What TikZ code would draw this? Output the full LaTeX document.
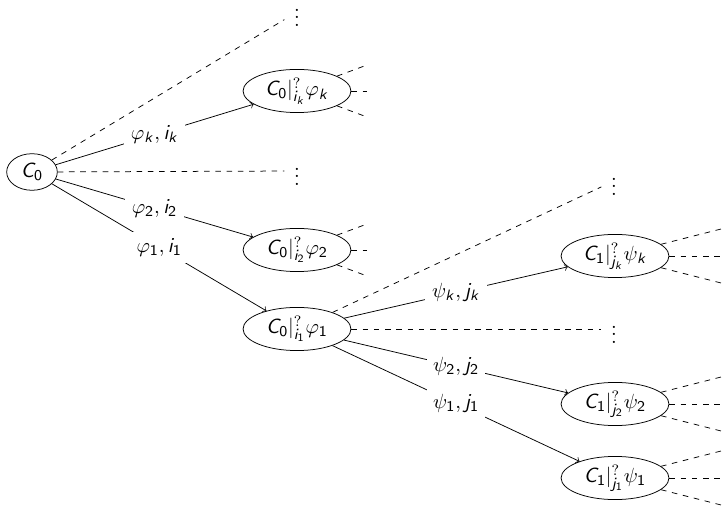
\documentclass[tikz,border=0pt]{standalone}
\usetikzlibrary{shapes.geometric,calc}
\DeclareMathAlphabet{\mathsfsl}{OT1}{cmss}{m}{sl}
\DeclareMathAlphabet{\mathsfup}{OT1}{cmss}{m}{n}
\newcommand{\vC}{\mathsfsl{C}}
\newcommand{\vi}{\mathsfsl{i}}
\newcommand{\vj}{\mathsfsl{j}}
\newcommand{\vk}{\mathsfsl{k}}
\newcommand{\dg}[1]{\mathsfup{#1}}
\newcommand{\qm}{\mathsfup{?}}
\begin{document}
\begin{tikzpicture}[x=0.533pt,y=-0.533pt,
  every node/.append style={font=\fontsize{10.95}{13.6}\selectfont},
  root/.style={ellipse,draw,inner sep=0pt,minimum width=27pt,minimum height=19.5pt},
  state/.style={ellipse,draw,inner sep=0pt,minimum width=57.5pt,minimum height=23pt},
  lbl/.style={fill=white,inner sep=3.5pt},
  more/.style={inner sep=5pt},
  conn/.style={->},
  stub/.style={dashed}]
\useasboundingbox (0,0) rectangle (722,507);
\clip (0,0) rectangle (722,507);
% level 0
\node[root] (C0) at (32,172) {$\vC_{\dg0}$};
% level 1
\node[more] (dk) at (297,12) {$\vdots$};
\node[state] (nk) at (297,91) {$\vC_{\dg0}|^{\qm}_{\vi_{\vk}}\varphi_{\vk}$};
\node[more] (dm) at (297,171) {$\vdots$};
\node[state] (n2) at (297,250) {$\vC_{\dg0}|^{\qm}_{\vi_{\dg2}}\varphi_{\dg2}$};
\node[state] (n1) at (297,329) {$\vC_{\dg0}|^{\qm}_{\vi_{\dg1}}\varphi_{\dg1}$};
% level 2
\node[more] (d1) at (614,181) {$\vdots$};
\node[state] (pk) at (615,256) {$\vC_{\dg1}|^{\qm}_{\vj_{\vk}}\psi_{\vk}$};
\node[more] (d2) at (614,329) {$\vdots$};
\node[state] (p2) at (615,404) {$\vC_{\dg1}|^{\qm}_{\vj_{\dg2}}\psi_{\dg2}$};
\node[state] (p1) at (615,478) {$\vC_{\dg1}|^{\qm}_{\vj_{\dg1}}\psi_{\dg1}$};
% connectors level 0 -> 1
\draw[stub] (C0) -- (dk);
\draw[conn] (C0) -- node[lbl] (lk) {$\varphi_{\vk}, \vi_{\vk}$} (nk);
\draw[stub] (C0) -- (dm);
\draw[conn] (C0) -- node[lbl] (l2) {$\varphi_{\dg2}, \vi_{\dg2}$} (n2);
\draw[conn] (C0) -- node[lbl] (l1) {$\varphi_{\dg1}, \vi_{\dg1}$} (n1);
% connectors level 1 -> 2
\draw[stub] (n1) -- (d1);
\draw[conn] (n1) -- node[lbl] (mk) {$\psi_{\vk}, \vj_{\vk}$} (pk);
\draw[stub] (n1) -- (d2);
\draw[conn] (n1) -- node[lbl] (m2) {$\psi_{\dg2}, \vj_{\dg2}$} (p2);
\draw[conn] (n1) -- node[lbl] (m1) {$\psi_{\dg1}, \vj_{\dg1}$} (p1);
% dashed stubs of the leaves
\foreach \n/\dx/\dy in {nk/70/26, n2/70/26, pk/110/28, p2/110/28, p1/110/28} {
  \coordinate (\n-a) at ($(\n)+(\dx,-\dy)$);
  \coordinate (\n-b) at ($(\n)+(\dx,0)$);
  \coordinate (\n-c) at ($(\n)+(\dx,\dy)$);
  \draw[stub] (\n) -- (\n-a);
  \draw[stub] (\n) -- (\n-b);
  \draw[stub] (\n) -- (\n-c);
}
\end{tikzpicture}
\end{document}
